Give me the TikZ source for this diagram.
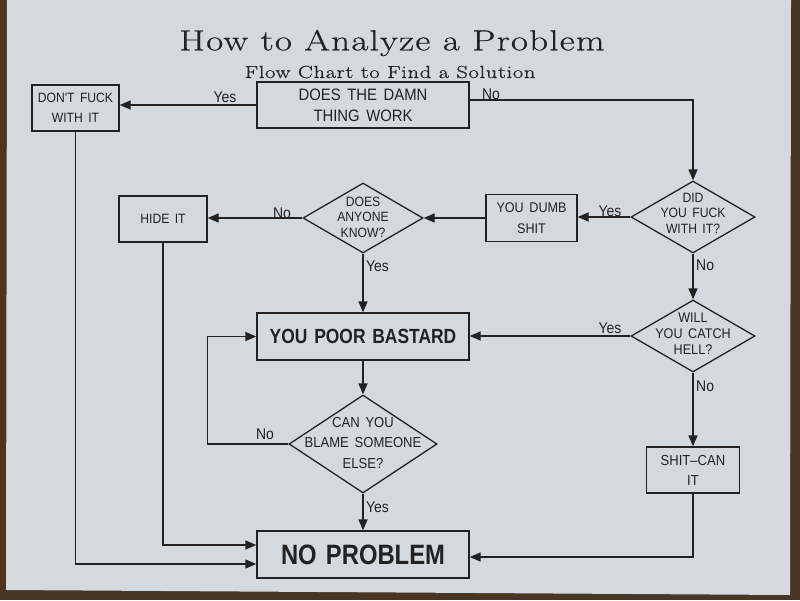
\documentclass[tikz,border=0pt]{standalone}
\usepackage{fontspec}
\setmainfont{Latin Modern Roman}
\newfontfamily\cad[FakeStretch=0.9,WordSpace=1.6]{Liberation Sans}
\newfontfamily\cadbold[FakeStretch=0.85,WordSpace=1.4]{Liberation Sans}
\newfontfamily\titlefont[FakeStretch=1.28,LetterSpace=4,FakeBold=0.6]{Latin Modern Roman}
\usetikzlibrary{arrows.meta,shapes.geometric,calc}
\definecolor{paper}{HTML}{D3D9DC}
\definecolor{table}{HTML}{4A3422}
\definecolor{ink}{HTML}{222222}
\tikzset{
  box/.style={draw=ink, line width=1.3pt, rectangle, inner sep=0pt, align=center, text=ink,
    font=\cad\fontsize{13.5}{20}\selectfont},
  bigbox/.style={box, font=\cadbold\bfseries\fontsize{20.5}{24}\selectfont},
  dia/.style={draw=ink, line width=1.3pt, diamond, inner sep=0pt},
  diatext/.style={align=center, text=ink, inner sep=0pt, font=\cad\fontsize{13.5}{15.5}\selectfont},
  lab/.style={text=ink, inner sep=0pt, font=\cad\fontsize{15.5}{17}\selectfont},
  arr/.style={draw=ink, line width=1.3pt, -{Triangle[length=11pt,width=9pt]}},
  ln/.style={draw=ink, line width=1.3pt}
}
\begin{document}
\begin{tikzpicture}[x=1pt,y=-1pt]
\useasboundingbox (0,0) rectangle (800,600);
\fill[table] (0,0) rectangle (800,600);
\fill[paper] (7,0) -- (791,0) -- (790,595) -- (6,590) -- cycle;

% titles
\node[text=ink, font=\titlefont\fontsize{29}{32}\selectfont] (title) at (392,43) {How to Analyze a Problem};
\node[text=ink, font=\titlefont\fontsize{17.5}{20}\selectfont] (subtitle) at (390,72) {Flow Chart to Find a Solution};

% boxes
\node[box, minimum width=212pt, minimum height=46pt, font=\cad\fontsize{16.5}{21}\selectfont] (dtdw) at (363,105) {DOES THE DAMN\\THING WORK};
\node[box, minimum width=87pt, minimum height=46pt] (dfwi) at (75.5,108) {DON'T FUCK\\WITH IT};
\node[box, minimum width=91pt, minimum height=47pt, font=\cad\fontsize{14}{21}\selectfont] (yds) at (531.5,218) {YOU DUMB\\SHIT};
\node[box, minimum width=88pt, minimum height=46pt] (hide) at (163,219) {HIDE IT};
\node[bigbox, minimum width=212pt, minimum height=47pt] (ypb) at (363,336.5) {YOU POOR BASTARD};
\node[box, minimum width=93pt, minimum height=46pt, font=\cad\fontsize{14.5}{20}\selectfont] (sci) at (693,470) {SHIT–CAN\\IT};
\node[bigbox, minimum width=212pt, minimum height=47pt, font=\cadbold\bfseries\fontsize{28}{30}\selectfont] (np) at (363,554.5) {NO PROBLEM};

% diamonds
\node[dia, minimum width=124pt, minimum height=72pt] (did) at (693,217) {};
\node[diatext] (didt) at (693,213) {DID\\YOU FUCK\\WITH IT?};
\node[dia, minimum width=120pt, minimum height=70pt] (dak) at (363,218) {};
\node[diatext] (dakt) at (363,217) {DOES\\ANYONE\\KNOW?};
\node[dia, minimum width=124pt, minimum height=72pt] (wych) at (693,336) {};
\node[diatext, font=\cad\fontsize{14}{16}\selectfont] (wycht) at (693,334) {WILL\\YOU CATCH\\HELL?};
\node[dia, minimum width=148pt, minimum height=98pt] (cyb) at (363,444) {};
\node[diatext, font=\cad\fontsize{14.5}{20.5}\selectfont] (cybt) at (363,443) {CAN YOU\\BLAME SOMEONE\\ELSE?};

% connectors
\draw[arr] (dtdw.west) -- (dtdw.west -| dfwi.east);
\draw[arr] ([yshift=5pt]dtdw.east) -| (did.north);
\draw[arr] (did.west) -- (did.west -| yds.east);
\draw[arr] (yds.west) -- (dak.east);
\draw[arr] (dak.west) -- (dak.west -| hide.east);
\draw[arr] (dak.south) -- (ypb.north);
\draw[arr] (did.south) -- (wych.north);
\draw[arr] (wych.west) -- (wych.west -| ypb.east);
\draw[arr] (wych.south) -- (sci.north);
\draw[arr] (ypb.south) -- (cyb.north);
\draw[arr] (cyb.south) -- (np.north);
\draw[arr] (cyb.west) -- (cyb.west -| hide.east) |- (ypb.west);
\draw[arr] (hide.south) |- ([yshift=9.5pt]np.west);
\draw[arr] (dfwi.south) |- ([yshift=-9.5pt]np.west);
\draw[arr] (sci.south) |- ([yshift=-2.5pt]np.east);

% labels
\node[lab] (l1) at (225,97) {Yes};
\node[lab] (l2) at (491,94) {No};
\node[lab] (l3) at (610,211) {Yes};
\node[lab] (l4) at (282,213) {No};
\node[lab, anchor=west] (l5) at (366,266) {Yes};
\node[lab, anchor=west] (l6) at (696,265) {No};
\node[lab] (l7) at (610,328) {Yes};
\node[lab, anchor=west] (l8) at (696,386) {No};
\node[lab] (l9) at (265,434) {No};
\node[lab, anchor=west] (l10) at (366,507) {Yes};
\end{tikzpicture}
\end{document}
